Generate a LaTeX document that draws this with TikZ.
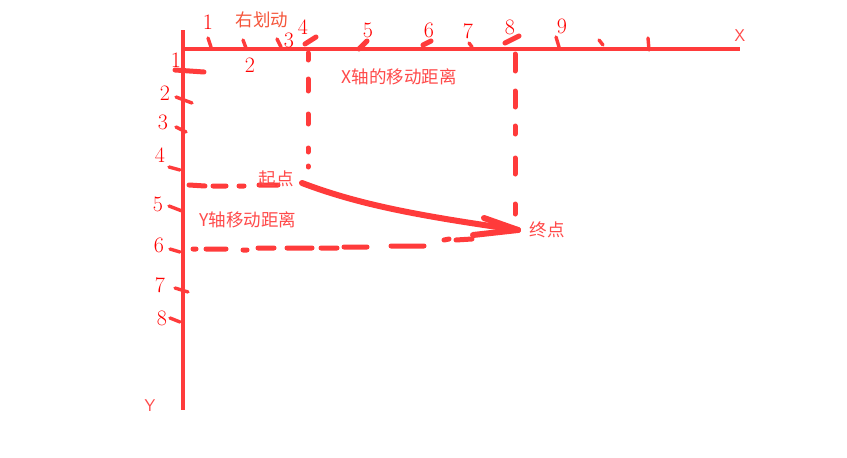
\documentclass[tikz,border=0pt]{standalone}
\usepackage{fontspec}
\newfontfamily\cjk{Noto Sans CJK SC}
\newfontfamily\hand{Latin Modern Roman}
\setmainfont{Liberation Sans}
\definecolor{lred}{HTML}{FF3B3B}
\definecolor{tred}{HTML}{FF4A4A}
\definecolor{ored}{HTML}{F5553A}
\begin{document}
\begin{tikzpicture}[x=1pt,y=-1pt,
  axisline/.style={lred,line width=3.6pt},
  tickmark/.style={lred,line width=3.4pt,line cap=round},
  bigtick/.style={lred,line width=5pt,line cap=round},
  dashline/.style={lred,line width=5pt,line cap=round},
  curvearrow/.style={lred,line width=6pt,line cap=round},
  digit/.style={text=red,font=\hand\fontsize{22}{22}\selectfont,inner sep=0pt},
  lbl/.style={text=tred,font=\cjk\fontsize{17.5}{18}\selectfont,inner sep=0pt},
  axlbl/.style={text=tred,font=\fontsize{17}{17}\selectfont\sffamily,inner sep=0pt}]
\useasboundingbox (0,0) rectangle (847,458);
\fill[white] (0,0) rectangle (847,458);
% axes
\coordinate (O) at (183,49);
\coordinate (XE) at (740,49);
\coordinate (YT) at (183,30);
\coordinate (YE) at (183,410);
\draw[axisline] (O) -- (XE);
\draw[axisline] (YT) -- (YE);
\node[axlbl] (xl) at (740,36) {X};
\node[axlbl] (yl) at (150,406) {Y};
% x ticks
\draw[tickmark] (208,38) -- (211,47);
\draw[tickmark] (243,40) -- (246,48);
\draw[tickmark] (277,39) -- (281,47);
\draw[bigtick] (305,44) -- (316,37);
\draw[bigtick] (359,49) -- (367,41);
\draw[bigtick] (423,45) -- (431,41);
\draw[tickmark] (469,43) -- (472,47);
\draw[bigtick] (505,43) -- (519,36);
\draw[tickmark] (556,37) -- (559,47);
\draw[tickmark] (599,40) -- (603,45);
\draw[tickmark] (648,38) -- (649,50);
% x digits
\node[digit] (x1) at (208,22) {1};
\node[digit] (x2) at (250,65) {2};
\node[digit] (x3) at (289,40) {3};
\node[digit] (x4) at (303,27) {4};
\node[digit] (x5) at (368,30) {5};
\node[digit] (x6) at (429,30) {6};
\node[digit] (x7) at (468,31) {7};
\node[digit] (x8) at (510,27) {8};
\node[digit] (x9) at (562,26) {9};
% y ticks
\draw[bigtick] (175,70) -- (204,72);
\draw[tickmark] (176,97) -- (192,103);
\draw[tickmark] (176,127) -- (186,132);
\draw[tickmark] (169,167) -- (180,170);
\draw[tickmark] (169,206) -- (182,211);
\draw[tickmark] (170,249) -- (180,252);
\draw[tickmark] (175,288) -- (188,292);
\draw[tickmark] (170,318) -- (180,322);
% y digits
\node[digit] (y1) at (176,60) {1};
\node[digit] (y2) at (165,93) {2};
\node[digit] (y3) at (163,122) {3};
\node[digit] (y4) at (160,155) {4};
\node[digit] (y5) at (158,204) {5};
\node[digit] (y6) at (159,245) {6};
\node[digit] (y7) at (160,285) {7};
\node[digit] (y8) at (162,318) {8};
% dashed guides
\draw[dashline] (308,53) -- (308,60) (308,79) -- (308,91) (308,114) -- (308,124) (308,148) -- (308,152) (308,166) -- (308,167);
\draw[dashline] (515,54) -- (515,71) (515,91) -- (515,107) (515,126) -- (515,134) (515,158) -- (515,174) (515,204) -- (515,214);
\draw[dashline] (189,185) -- (205,186) (213,186) -- (226,186) (239,186) -- (244,186) (259,185) -- (278,185);
\draw[dashline] (193,249) -- (196,249) (206,249) -- (226,249) (243,250) -- (247,250) (258,248) -- (274,248) (287,248) -- (312,248) (321,248) -- (337,248) (344,247) -- (367,247) (391,246) -- (424,246) (444,240) -- (449,239) (456,240) -- (472,239);
% arrow
\coordinate (S) at (302,183);
\coordinate (E) at (518,230);
\draw[curvearrow] (S) .. controls (360,205) and (420,216) .. (E);
\draw[curvearrow] (484,218) -- (E);
\draw[curvearrow] (473,235) -- (E);
% labels
\node[lbl,text=ored] (r) at (262,20) {右划动};
\node[lbl] (xd) at (399,77) {X轴的移动距离};
\node[lbl] (st) at (276,179) {起点};
\node[lbl] (yd) at (248,220) {Y轴移动距离};
\node[lbl] (en) at (547,230) {终点};
\end{tikzpicture}
\end{document}
